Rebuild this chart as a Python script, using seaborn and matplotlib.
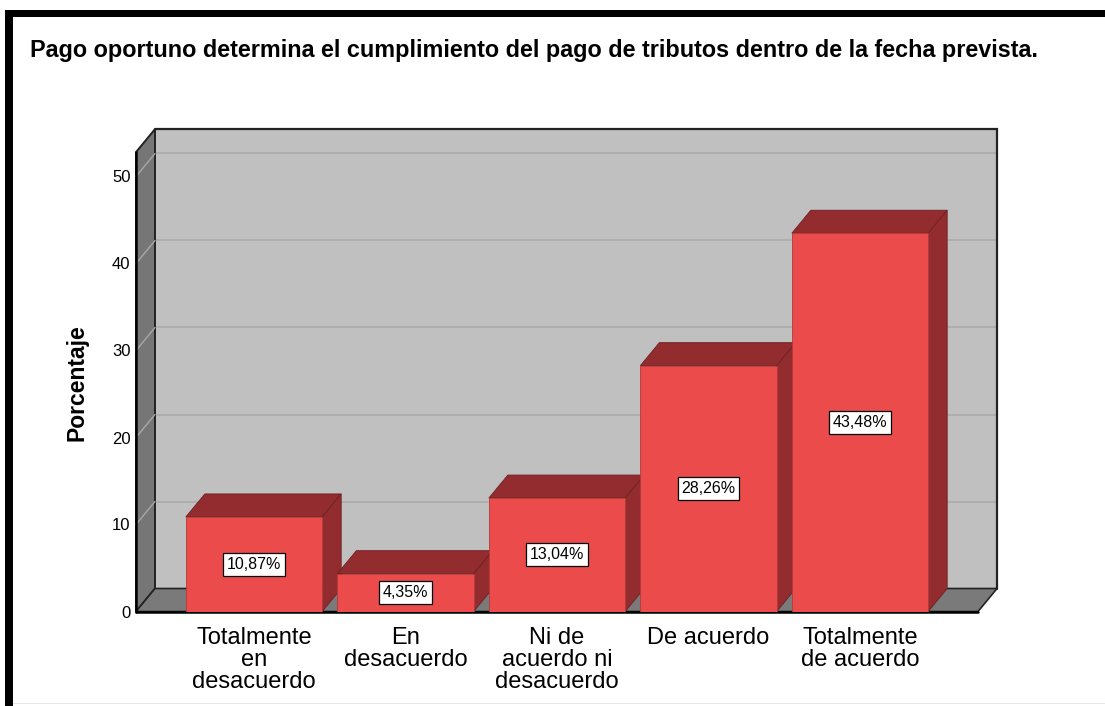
import matplotlib
matplotlib.use("Agg")
import matplotlib.pyplot as plt
from matplotlib.patches import Polygon, Rectangle
import pandas as pd
import seaborn as sns

TITLE = "Pago oportuno determina el cumplimiento del pago de tributos dentro de la fecha prevista."
Y_LABEL = "Porcentaje"
categories = [
    "Totalmente\nen\ndesacuerdo",
    "En\ndesacuerdo",
    "Ni de\nacuerdo ni\ndesacuerdo",
    "De acuerdo",
    "Totalmente\nde acuerdo",
]
percentages = [10.87, 4.35, 13.04, 28.26, 43.48]
y_ticks = [0, 10, 20, 30, 40, 50]

# colours (SPSS-like 3D look)
FRONT = "#EC4B4B"
DARK = "#922C2E"
WALL = "#C0C0C0"
SIDE = "#767676"
FLOOR = "#7A7A7A"
GRID = "#ABABAB"

# geometry of the fake 3D box, in pixels of the 1105x706 output
W, H = 1105, 706
PX_CAT = 151.5      # px per category
PX_UNIT = 8.7       # px per percent
DX = 19 / PX_CAT    # depth offset in data units
DY = 23 / PX_UNIT
X0, X1 = -0.779, 4.779   # front floor extent
Y_TOP = 52.8             # top of front left edge
AX_LEFT_PX, AX_BOTTOM_PX = 136, 611.5


def setup_style():
    sns.set_theme(style="white")
    plt.rcParams["font.family"] = ["Liberation Sans", "DejaVu Sans"]
    plt.rcParams.update({
        "text.color": "black",
        "axes.labelcolor": "black",
        "xtick.color": "black",
        "ytick.color": "black",
    })


def draw_box(ax):
    xb0, xb1 = X0 + DX, X1 + DX
    ax.add_patch(Rectangle((xb0, DY), xb1 - xb0, Y_TOP, fc=WALL, ec="none", zorder=0.5, clip_on=False))
    for t in y_ticks[1:]:
        ax.plot([xb0, xb1], [t + DY, t + DY], color=GRID, lw=1.2, zorder=0.6, clip_on=False)
    ax.plot([xb0, xb1, xb1], [Y_TOP + DY, Y_TOP + DY, DY], color="#222222", lw=1.6, zorder=0.65,
            clip_on=False, solid_joinstyle="miter")
    side = [(X0, 0), (xb0, DY), (xb0, Y_TOP + DY), (X0, Y_TOP)]
    ax.add_patch(Polygon(side, fc=SIDE, ec="#222222", lw=1.4, zorder=0.7, clip_on=False))
    for t in y_ticks[1:]:
        ax.plot([X0, xb0], [t, t + DY], color="#A8A8A8", lw=1.0, zorder=0.8, clip_on=False)
    floor = [(X0, 0), (X1, 0), (xb1, DY), (xb0, DY)]
    ax.add_patch(Polygon(floor, fc=FLOOR, ec="#222222", lw=1.2, zorder=0.9, clip_on=False))
    ax.plot([X0, X1], [0, 0], color="black", lw=1.8, zorder=0.95, clip_on=False)
    ax.plot([X0, X0], [0, Y_TOP], color="black", lw=1.8, zorder=0.95, clip_on=False)


def main():
    setup_style()
    fig = plt.figure(figsize=(W / 100, H / 100), dpi=100)
    ax_w = (X1 + DX - X0) * PX_CAT
    ax_h = (Y_TOP + DY + 0.3) * PX_UNIT
    ax = fig.add_axes([AX_LEFT_PX / W, (H - AX_BOTTOM_PX) / H, ax_w / W, ax_h / H])
    ax.set_facecolor("none")

    df = pd.DataFrame({"categoria": categories, "porcentaje": percentages})
    sns.barplot(data=df, x="categoria", y="porcentaje", color=FRONT, saturation=1,
                width=0.9, errorbar=None, ax=ax)
    bars = list(ax.patches)

    draw_box(ax)

    for i, (bar, v) in enumerate(zip(bars, percentages)):
        xl = bar.get_x()
        xr = xl + bar.get_width()
        h = bar.get_height()
        top = [(xl, h), (xr, h), (xr + DX, h + DY), (xl + DX, h + DY)]
        side = [(xr, 0), (xr + DX, DY), (xr + DX, h + DY), (xr, h)]
        ax.add_patch(Polygon(top, fc=DARK, ec="#6E2022", lw=0.6, zorder=2 + 2 * i))
        ax.add_patch(Polygon(side, fc=DARK, ec="#6E2022", lw=0.6, zorder=2 + 2 * i))
        bar.set_zorder(3 + 2 * i)
        bar.set_edgecolor("#B23A3A")
        bar.set_linewidth(0.6)
        label = f"{v:.2f}".replace(".", ",") + "%"
        ax.text(xl + bar.get_width() / 2, h / 2, label, ha="center", va="center", fontsize=11.5,
                zorder=30, bbox=dict(boxstyle="square,pad=0.24", fc="white", ec="black", lw=0.9))

    ax.set_xlim(X0, X1 + DX)
    ax.set_ylim(0, Y_TOP + DY + 0.3)
    ax.set_yticks(y_ticks)
    ax.set_yticklabels([str(t) for t in y_ticks], fontsize=12)
    ax.set_xticks(range(len(categories)))
    ax.set_xticklabels(categories, fontsize=17, linespacing=1.02)
    ax.tick_params(axis="x", length=0, pad=11)
    ax.tick_params(axis="y", length=0, pad=4)
    ax.set_xlabel("")
    ax.set_ylabel(Y_LABEL, fontsize=16.5, fontweight="bold", va="center")
    ax.yaxis.set_label_coords((77 - AX_LEFT_PX) / ax_w, (AX_BOTTOM_PX - 383) / ax_h)
    for s in ax.spines.values():
        s.set_visible(False)

    fig.text(30 / W, 1 - 50 / H, TITLE, ha="left", va="center", fontsize=16.8, fontweight="bold")

    # outer frame of the exported chart (black top and left edge)
    fig.add_artist(Rectangle((5 / W, 1 - 17 / H), 1 - 5 / W, 7 / H, transform=fig.transFigure,
                             fc="black", ec="none"))
    fig.add_artist(Rectangle((5 / W, 0), 8 / W, 1 - 10 / H, transform=fig.transFigure,
                             fc="black", ec="none"))
    fig.add_artist(Rectangle((13 / W, 2 / H), 1, 1 / H, transform=fig.transFigure,
                             fc="#E6E6E6", ec="none"))

    fig.savefig("out.png", dpi=100)
    plt.close(fig)


if __name__ == "__main__":
    main()
